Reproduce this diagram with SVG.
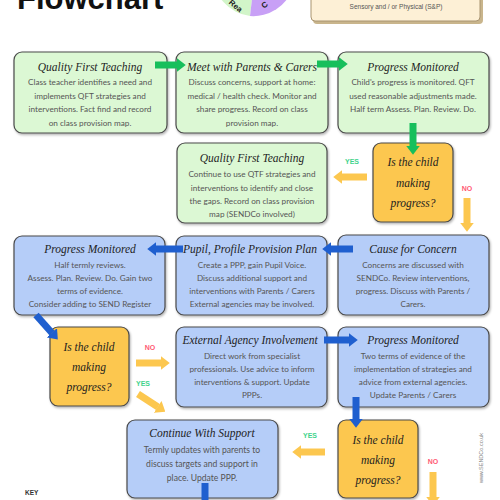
<svg xmlns="http://www.w3.org/2000/svg" width="500" height="500" viewBox="0 0 500 500">
<defs>
<style>
.g{fill:#dcf8d4;stroke:#4a4a4a;stroke-width:1.2}
.b{fill:#b5cdf8;stroke:#4a4a4a;stroke-width:1.2}
.o{fill:#fcc74f;stroke:#4a4a4a;stroke-width:1.2}
.h{font-family:"Liberation Serif",serif;font-style:italic;font-size:11.5px;fill:#1e1e1e;text-anchor:middle}
.t{font-family:Lato,"Liberation Sans",sans-serif;font-size:8.2px;fill:#555;text-anchor:middle}
.d{font-family:"Liberation Serif",serif;font-style:italic;font-size:11.5px;fill:#1e1e1e;text-anchor:middle}
.yes{font-family:"Liberation Sans",sans-serif;font-weight:bold;font-size:7px;fill:#3fd38c;text-anchor:middle}
.no{font-family:"Liberation Sans",sans-serif;font-weight:bold;font-size:7px;fill:#ff5a75;text-anchor:middle}
.ag{stroke:#17bf5c;stroke-width:7;fill:none}
.ab{stroke:#1f5fcf;stroke-width:7;fill:none}
.ao{stroke:#fcc74f;stroke-width:7;fill:none}
</style>
<filter id="sh" x="-10%" y="-10%" width="120%" height="120%">
<feDropShadow dx="1" dy="1.5" stdDeviation="1" flood-color="#000" flood-opacity="0.3"/>
</filter>
<marker id="mg" viewBox="0 0 1.3 2" markerWidth="1.3" markerHeight="2" refX="0.05" refY="1" orient="auto"><path d="M0,0 L1.3,1 L0,2 z" fill="#17bf5c"/></marker>
<marker id="mb" viewBox="0 0 1.3 2" markerWidth="1.3" markerHeight="2" refX="0.05" refY="1" orient="auto"><path d="M0,0 L1.3,1 L0,2 z" fill="#1f5fcf"/></marker>
<marker id="mo" viewBox="0 0 1.3 2" markerWidth="1.3" markerHeight="2" refX="0.05" refY="1" orient="auto"><path d="M0,0 L1.3,1 L0,2 z" fill="#fcc74f"/></marker>
</defs>
<rect width="500" height="500" fill="#fff"/>

<g id="header">
<text x="17" y="9" font-family="Liberation Sans,sans-serif" font-weight="bold" font-size="31" fill="#111">Flowchart</text>
<g id="pie">
<path d="M255,-26 L213,-26 A42,42 0 0 0 250,16 Z" fill="#d2f5c9"/>
<path d="M255,-26 L250,16 A42,42 0 0 0 293,-12 Z" fill="#c8a0f6"/>
<text x="234" y="8" transform="rotate(40 234 8)" font-family="Liberation Sans,sans-serif" font-weight="bold" font-size="8" fill="#222" text-anchor="middle">Rea</text>
<text x="266" y="7" transform="rotate(-35 266 7)" font-family="Liberation Sans,sans-serif" font-weight="bold" font-size="8" fill="#222" text-anchor="middle">C</text>
</g>
<g id="key-box">
<rect x="313" y="-10" width="170" height="34" rx="4" fill="#c9b58c"/>
<rect x="311" y="-12" width="169" height="33" rx="4" fill="#fdf0d6" stroke="#a89470" stroke-width="1"/>
<text x="396" y="9" font-family="Liberation Sans,sans-serif" font-size="6.5" fill="#555" text-anchor="middle">Sensory and / or  Physical (S&amp;P)</text>
</g>
</g>

<g id="qft1">
<rect class="g" filter="url(#sh)" x="14" y="52" width="153" height="81" rx="8"/>
<text class="h" x="90" y="71">Quality First Teaching</text>
<text class="t" x="90" y="85">Class teacher identifies a need and</text>
<text class="t" x="90" y="99">implements QFT strategies and</text>
<text class="t" x="90" y="112">interventions. Fact find and record</text>
<text class="t" x="90" y="126">on class provision map.</text>
</g>

<g id="meet">
<rect class="g" filter="url(#sh)" x="176" y="52" width="152" height="81" rx="8"/>
<text class="h" x="252" y="71">Meet with Parents &amp; Carers</text>
<text class="t" x="252" y="85">Discuss concerns, support at home:</text>
<text class="t" x="252" y="99">medical / health check. Monitor and</text>
<text class="t" x="252" y="112">share progress. Record on class</text>
<text class="t" x="252" y="126">provision map.</text>
</g>

<g id="progress1">
<rect class="g" filter="url(#sh)" x="338" y="52" width="151" height="81" rx="8"/>
<text class="h" x="413" y="71">Progress Monitored</text>
<text class="t" x="413" y="85">Child's progress is monitored. QFT</text>
<text class="t" x="413" y="99">used reasonable adjustments made.</text>
<text class="t" x="413" y="112">Half term Assess. Plan. Review. Do.</text>
</g>

<g id="qft2">
<rect class="g" filter="url(#sh)" x="177" y="143" width="150" height="80" rx="8"/>
<text class="h" x="252" y="162">Quality First Teaching</text>
<text class="t" x="252" y="177">Continue to use QTF strategies and</text>
<text class="t" x="252" y="191">interventions to identify and close</text>
<text class="t" x="252" y="204">the gaps. Record on class provision</text>
<text class="t" x="252" y="217">map (SENDCo involved)</text>
</g>

<g id="decision1">
<rect class="o" filter="url(#sh)" x="373" y="143" width="80" height="79" rx="8"/>
<text class="d" x="413" y="166">Is the child</text>
<text class="d" x="413" y="187">making</text>
<text class="d" x="413" y="207">progress?</text>
</g>

<g id="progress2">
<rect class="b" filter="url(#sh)" x="14" y="236" width="151" height="79" rx="8"/>
<text class="h" x="90" y="253">Progress Monitored</text>
<text class="t" x="90" y="268">Half termly reviews.</text>
<text class="t" x="90" y="281">Assess. Plan. Review. Do. Gain two</text>
<text class="t" x="90" y="294">terms of evidence.</text>
<text class="t" x="90" y="307">Consider adding to SEND Register</text>
</g>

<g id="ppp">
<rect class="b" filter="url(#sh)" x="176" y="236" width="151" height="79" rx="8"/>
<text class="h" x="250" y="253">Pupil, Profile Provision Plan</text>
<text class="t" x="252" y="268">Create a PPP, gain Pupil Voice.</text>
<text class="t" x="252" y="281">Discuss additional support and</text>
<text class="t" x="252" y="294">interventions with Parents / Carers</text>
<text class="t" x="252" y="307">External agencies may be involved.</text>
</g>

<g id="concern">
<rect class="b" filter="url(#sh)" x="338" y="235" width="151" height="80" rx="8"/>
<text class="h" x="413" y="253">Cause for Concern</text>
<text class="t" x="413" y="268">Concerns are discussed with</text>
<text class="t" x="413" y="281">SENDCo. Review interventions,</text>
<text class="t" x="413" y="294">progress. Discuss with Parents /</text>
<text class="t" x="413" y="307">Carers.</text>
</g>

<g id="decision2">
<rect class="o" filter="url(#sh)" x="50" y="327" width="79" height="79" rx="8"/>
<text class="d" x="89" y="351">Is the child</text>
<text class="d" x="89" y="371">making</text>
<text class="d" x="89" y="391">progress?</text>
</g>

<g id="external">
<rect class="b" filter="url(#sh)" x="176" y="327" width="151" height="80" rx="8"/>
<text class="h" x="250" y="344">External Agency Involvement</text>
<text class="t" x="252" y="359">Direct work from specialist</text>
<text class="t" x="252" y="372">professionals. Use advice to inform</text>
<text class="t" x="252" y="385">interventions &amp; support. Update</text>
<text class="t" x="252" y="398">PPPs.</text>
</g>

<g id="progress3">
<rect class="b" filter="url(#sh)" x="338" y="327" width="151" height="80" rx="8"/>
<text class="h" x="413" y="344">Progress Monitored</text>
<text class="t" x="413" y="359">Two terms of evidence of the</text>
<text class="t" x="413" y="372">implementation of strategies and</text>
<text class="t" x="413" y="385">advice from external agencies.</text>
<text class="t" x="413" y="398">Update Parents / Carers</text>
</g>

<g id="continue">
<rect class="b" filter="url(#sh)" x="127" y="420" width="151" height="78" rx="8"/>
<text class="h" x="202" y="437">Continue With Support</text>
<text class="t" x="202" y="453" style="font-size:8.6px">Termly updates with parents to</text>
<text class="t" x="202" y="467" style="font-size:8.6px">discuss targets and support in</text>
<text class="t" x="202" y="481" style="font-size:8.6px">place. Update PPP.</text>
</g>

<g id="decision3">
<rect class="o" filter="url(#sh)" x="338" y="420" width="80" height="78" rx="8"/>
<text class="d" x="378" y="444">Is the child</text>
<text class="d" x="378" y="464">making</text>
<text class="d" x="378" y="484">progress?</text>
</g>

<g id="connectors">
<line class="ag" x1="155" y1="65" x2="177" y2="65" marker-end="url(#mg)"/>
<line class="ag" x1="317" y1="64" x2="339" y2="64" marker-end="url(#mg)"/>
<line class="ag" x1="413" y1="123" x2="413" y2="146" marker-end="url(#mg)"/>
<line class="ao" x1="367" y1="177" x2="342" y2="177" marker-end="url(#mo)"/>
<line class="ao" x1="467" y1="198" x2="467" y2="223" marker-end="url(#mo)"/>
<line class="ab" x1="353" y1="249" x2="331" y2="249" marker-end="url(#mb)"/>
<line class="ab" x1="183" y1="249" x2="156" y2="249" marker-end="url(#mb)"/>
<line class="ab" x1="36" y1="315" x2="52" y2="333" marker-end="url(#mb)"/>
<line class="ao" x1="136" y1="363" x2="161" y2="363" marker-end="url(#mo)"/>
<line class="ao" x1="138" y1="394" x2="158" y2="407" marker-end="url(#mo)"/>
<line class="ab" x1="324" y1="340" x2="349" y2="340" marker-end="url(#mb)"/>
<line class="ab" x1="356" y1="397" x2="356" y2="419" marker-end="url(#mb)"/>
<line class="ao" x1="325" y1="452" x2="301" y2="452" marker-end="url(#mo)"/>
<line class="ao" x1="433" y1="472" x2="433" y2="497" marker-end="url(#mo)"/>
<line class="ab" x1="205" y1="483" x2="205" y2="500"/>
<text class="yes" x="352" y="164">YES</text>
<text class="no" x="467" y="191">NO</text>
<text class="no" x="150" y="350">NO</text>
<text class="yes" x="143" y="386">YES</text>
<text class="yes" x="310" y="438">YES</text>
<text class="no" x="433" y="464">NO</text>
</g>

<g id="footer">
<text x="25" y="495" font-family="Liberation Sans,sans-serif" font-weight="bold" font-size="6.5" fill="#333">KEY</text>
<text x="483" y="458" transform="rotate(-90 483 458)" font-family="Liberation Sans,sans-serif" font-size="5.5" fill="#888" text-anchor="middle">www.SENDCo.co.uk</text>
</g>
</svg>
